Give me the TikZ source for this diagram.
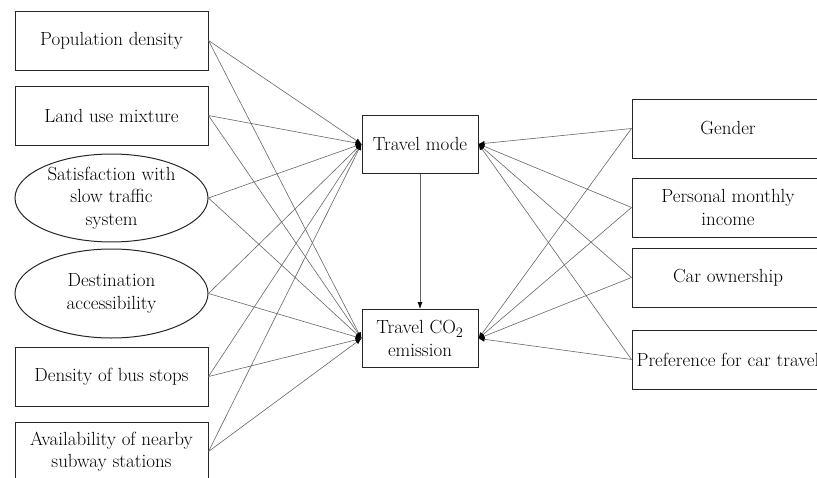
\documentclass[tikz,border=0pt]{standalone}
\usetikzlibrary{arrows.meta,shapes.geometric}
\begin{document}
\begin{tikzpicture}[x=1pt,y=-1pt,
  txt/.style={font=\fontsize{19}{22.5}\selectfont, align=center, text=black, inner sep=0pt},
  lbox/.style={txt, draw=black!85, line width=1pt, rectangle, minimum width=193pt, minimum height=59pt},
  lell/.style={txt, draw=black!85, line width=1pt, ellipse, minimum width=193pt},
  mbox/.style={txt, draw=black!85, line width=1pt, rectangle, minimum width=116pt, minimum height=58pt},
  link/.style={draw=black!60, line width=0.6pt, -{Latex[length=6pt,width=5pt,color=black]}},
  down/.style={draw=black!60, line width=0.8pt, -{Latex[length=7pt,width=5pt,color=black]}}
]
\useasboundingbox (0,0) rectangle (817,477);
\clip (0,0) rectangle (817,477);
% left
\node[lbox] (pd) at (111.5,40.5) {Population density};
\node[lbox] (lu) at (111.5,115.5) {Land use mixture};
\node[lell, minimum height=86pt] (sat) at (111.5,198) {Satisfaction with\\slow traffic\\system};
\node[lell, minimum height=89pt] (da) at (111.5,293.5) {Destination\\accessibility};
\node[lbox] (bs) at (111.5,376.5) {Density of bus stops};
\node[lbox] (sub) at (111.5,451.5) {Availability of nearby\\subway stations};
% middle
\node[mbox] (tm) at (420,144) {Travel mode};
\node[mbox] (co) at (420,338.5) {Travel CO$_2$\\emission};
% right
\node[lbox, minimum width=192pt] (g) at (728,128.5) {Gender};
\node[lbox, minimum width=192pt] (inc) at (728,207.5) {Personal monthly\\income};
\node[lbox, minimum width=192pt] (car) at (728,277.5) {Car ownership};
\node[lbox, minimum width=192pt] (pref) at (728,359.5) {Preference for car travel};
% links
\foreach \s in {pd,lu,sat,da,bs,sub}{
  \draw[link] (\s.east) -- (tm.west);
  \draw[link] (\s.east) -- (co.west);
}
\foreach \s in {g,inc,car,pref}{
  \draw[link] (\s.west) -- (tm.east);
  \draw[link] (\s.west) -- (co.east);
}
\draw[down] (tm.south) -- (co.north);
\end{tikzpicture}
\end{document}
